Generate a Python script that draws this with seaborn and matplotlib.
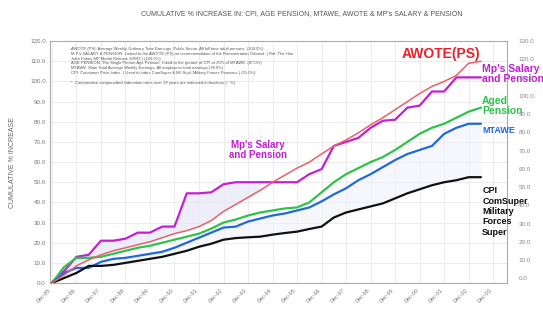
import matplotlib
matplotlib.use("Agg")
import matplotlib.pyplot as plt
import numpy as np
import pandas as pd
import seaborn as sns

# half-yearly points, years from Dec-85
years = [i * 0.5 for i in range(36)]
awote = [0, 4, 8.5, 11.5, 14, 16, 17.5, 19, 20.5, 22.5, 24.5, 26, 28, 31, 35.5, 39, 42.5, 46,
         50, 53.5, 57, 60, 64, 68, 71, 74.5, 78.5, 82, 86, 90, 94, 97.5, 100, 103, 109, 110]
mps = [0, 6, 13, 14, 21, 21, 22, 25, 25, 28, 28, 44.5, 44.5, 45, 49, 50, 50, 50,
       50, 50, 50, 54, 56.5, 68, 70, 72, 77, 80.5, 81, 87, 88, 95, 95, 102, 102, 102]
aged = [0, 8, 12.5, 12.5, 13, 14.5, 16, 17.5, 18.5, 20, 21.5, 23, 24.5, 27, 30, 31.5, 33.5, 35,
        36, 37, 37.5, 40, 45, 50, 54, 57, 60, 62.5, 66, 70, 74, 77, 79, 82, 85, 87]
mtawe = [0, 5, 7.5, 7.5, 10.5, 12, 12.5, 13.5, 14.5, 15.5, 17.5, 20, 22.5, 25, 27.5, 28, 30.5, 32,
         33.5, 34.5, 36, 37.5, 40.5, 44, 47, 51, 54, 57.5, 61, 64, 66, 68, 74, 77, 79, 79]
cpi = [0, 2.5, 5, 8.5, 8.5, 9, 10, 11, 12, 13, 14.5, 16, 18, 19.5, 21.5, 22.3, 22.7, 23,
       24, 24.8, 25.5, 26.8, 28, 32.5, 35, 36.5, 38, 39.5, 42, 44.5, 46.5, 48.5, 50, 51, 52.5, 52.5]
tick_labels = ["Dec-%02d" % (y % 100) for y in range(85, 104)]

df = pd.DataFrame({
    "t": years * 5,
    "val": awote + mps + aged + mtawe + cpi,
    "series": ["AWOTE"] * 36 + ["MPs"] * 36 + ["Aged"] * 36 + ["MTAWE"] * 36 + ["CPI"] * 36,
})
pal = {"AWOTE": "#e8606a", "MPs": "#c21fd6", "Aged": "#2fc24a", "MTAWE": "#2168e0", "CPI": "#111111"}

sns.set_style("white")
plt.rcParams["font.family"] = ["Liberation Sans", "DejaVu Sans"]

fig = plt.figure(figsize=(5.43, 3.09), dpi=100)
ax = fig.add_axes([0.092, 0.084, 0.842, 0.783])

# light shading between curves
ax.fill_between(years, mps, awote, where=np.array(mps) > np.array(awote), color="#e8e8f8", alpha=0.7, lw=0)
ax.fill_between(years, mtawe, cpi, color="#f1f2fb", alpha=0.6, lw=0)

sns.lineplot(data=df[df.series != "AWOTE"], x="t", y="val", hue="series", palette=pal,
             lw=1.6, legend=False, ax=ax)
sns.lineplot(data=df[df.series == "AWOTE"], x="t", y="val", hue="series", palette=pal,
             lw=1.1, legend=False, ax=ax)

ax.set_xlim(-0.08, 18.57)
ax.set_ylim(0, 120)
ax.set_xticks(range(19))
ax.set_xticklabels(tick_labels, rotation=45, ha="right", fontsize=4, color="#777777")
ax.set_yticks(range(0, 121, 10))
ax.set_yticklabels(["%.1f" % v for v in range(0, 121, 10)], fontsize=4.5, color="#777777")
ax.tick_params(axis="both", length=0, pad=3)
ax.set_xlabel("")
ax.set_ylabel("CUMULATIVE % INCREASE", fontsize=5, color="#666666", labelpad=10)
ax.grid(True, color="#e9e9e9", lw=0.6)
for s in ax.spines.values():
    s.set_color("#aaaaaa")
    s.set_linewidth(0.8)

ax2 = ax.twinx()
ax2.set_ylim(-2.5, 130)
ax2.set_yticks(range(0, 131, 10))
ax2.set_yticklabels(["%.1f" % v for v in range(0, 131, 10)], fontsize=4.5, color="#888888")
ax2.tick_params(axis="y", length=0, pad=8)
for s in ax2.spines.values():
    s.set_visible(False)

fig.text(0.555, 0.955, "CUMULATIVE % INCREASE IN: CPI, AGE PENSION, MTAWE, AWOTE & MP's SALARY & PENSION",
         ha="center", va="center", fontsize=5, color="#555555")

notes = ("AWOTE (PS): Average Weekly Ordinary Time Earnings, Public Sector. All full time adult persons. (109.0%)\n"
         "M P's SALARY & PENSION: Linked to the AWOTE (PS) on recommendation of the Remuneration Tribunal. ( Ref: The Hon\n"
         "John Fahey MP Media Release 3/8/92 ) (101.0%)\n"
         "AGE PENSION: The Single Person Age Pension, linked to the greater of CPI or 25% of MTAWE. (87.0%)\n"
         "MTAWE: Male Total Average Weekly Earnings, All employees total earnings (78.0%)\n"
         "CPI: Consumer Price Index. ( Used to index ComSuper & Mil Supl, Military Forces Pensions ) (51.0%)")
ax.text(0.045, 0.975, notes, transform=ax.transAxes, fontsize=3, color="#555555",
        va="top", ha="left", linespacing=1.25)
ax.text(0.045, 0.835, "*  Comparative compounded indexation rates over 19 years are indicated in brackets (~ %)",
        transform=ax.transAxes, fontsize=3, color="#555555", va="top", ha="left")

ax.text(15.85, 113.5, "AWOTE(PS)", color="#e8202a", fontsize=10, fontweight="bold", ha="center", va="center")
ax.text(17.55, 103.5, "Mp's Salary\nand Pension", color="#c21fd6", fontsize=7.5, fontweight="bold",
        ha="left", va="center", linespacing=1.0, clip_on=False)
ax.text(17.55, 88, "Aged\nPension", color="#2fc24a", fontsize=7.5, fontweight="bold",
        ha="left", va="center", linespacing=1.0, clip_on=False)
ax.text(17.55, 75.5, "MTAWE", color="#2168e0", fontsize=6.5, fontweight="bold",
        ha="left", va="center", clip_on=False)
ax.text(8.4, 66, "Mp's Salary\nand Pension", color="#c21fd6", fontsize=7, fontweight="bold",
        ha="center", va="center", linespacing=1.0)
ax.text(17.55, 35.5, "CPI\nComSuper\nMilitary\nForces\nSuper", color="#111111", fontsize=6.5, fontweight="bold",
        ha="left", va="center", linespacing=1.2, clip_on=False)

fig.savefig("out.png", dpi=100)
